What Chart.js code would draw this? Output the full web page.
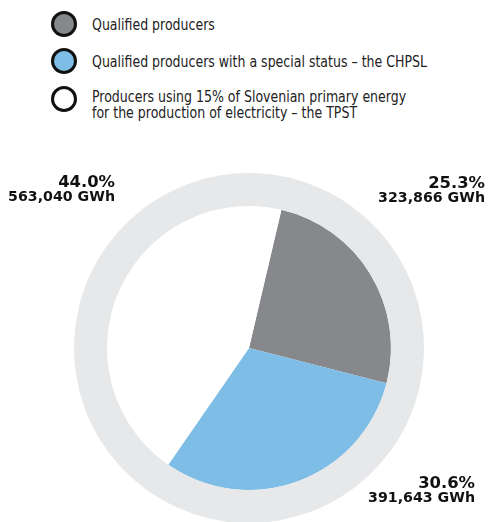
<!DOCTYPE html>
<html>
<head>
<meta charset="utf-8">
<script src="https://cdn.jsdelivr.net/npm/chart.js@4/dist/chart.umd.min.js"></script>
<style>
  html, body { margin: 0; padding: 0; background: #fff; }
  #page { position: relative; width: 491px; height: 522px; overflow: hidden; }
  .dot { position: absolute; left: 51px; width: 20px; height: 20px; border: 3px solid #111; border-radius: 50%; }
  .leg-text { position: absolute; left: 92px; font-family: "DejaVu Sans Condensed", sans-serif; font-size: 15px; line-height: 16px; color: #222; white-space: nowrap; transform: scaleX(0.93); transform-origin: 0 0; }
  #wrap { position: absolute; left: 74px; top: 173px; width: 350px; height: 350px; }
  .lab { position: absolute; text-align: right; font-family: "DejaVu Sans", sans-serif; font-weight: bold; color: #111; white-space: nowrap; }
  .lab .p { font-size: 16.4px; line-height: 13.5px; }
  .lab .v { font-size: 14.2px; line-height: 15px; }
</style>
</head>
<body>
<div id="page">
  <div id="legend"></div>
  <div id="wrap"><canvas id="c"></canvas></div>
  <div id="labels"></div>
</div>
<script>
// data
const categories = [
  'Qualified producers',
  'Qualified producers with a special status \u2013 the CHPSL',
  'Producers using 15% of Slovenian primary energy\nfor the production of electricity \u2013 the TPST'
];
const valuesGWh = [323866, 391643, 563040];
const colors = ['#87888c', '#7dbde6', '#ffffff'];
const ringColor = '#e7e8ea';

// layout
const labelPos = [
  { right: 6, top: 176 },
  { right: 16, top: 476 },
  { right: 376, top: 175 }
];
const dotTop = [10.5, 48, 86];
const textTop = [17, 53.5, 89];

const total = valuesGWh.reduce((a, b) => a + b, 0);

// legend
const legend = document.getElementById('legend');
categories.forEach((cat, i) => {
  const dot = document.createElement('div');
  dot.className = 'dot';
  dot.style.top = dotTop[i] + 'px';
  dot.style.background = colors[i];
  const txt = document.createElement('div');
  txt.className = 'leg-text';
  txt.style.top = textTop[i] + 'px';
  txt.innerHTML = cat.split('\n').join('<br>');
  legend.appendChild(dot);
  legend.appendChild(txt);
});

// value labels
const labels = document.getElementById('labels');
valuesGWh.forEach((v, i) => {
  const d = document.createElement('div');
  d.className = 'lab';
  d.style.right = labelPos[i].right + 'px';
  d.style.top = labelPos[i].top + 'px';
  const pct = (v / total * 100).toFixed(1) + '%';
  d.innerHTML = '<div class="p">' + pct + '</div><div class="v">' + v.toLocaleString('en-US') + ' GWh</div>';
  labels.appendChild(d);
});

new Chart(document.getElementById('c'), {
  type: 'pie',
  data: {
    labels: categories,
    datasets: [
      { data: [1], backgroundColor: [ringColor], borderWidth: 0, weight: 33 },
      { data: valuesGWh, backgroundColor: colors, borderWidth: 0, weight: 142 }
    ]
  },
  options: {
    responsive: true,
    maintainAspectRatio: false,
    animation: false,
    rotation: 13.2,
    layout: { padding: 0 },
    hoverOffset: 0,
    plugins: { legend: { display: false }, tooltip: { enabled: false } }
  }
});
</script>
</body>
</html>
